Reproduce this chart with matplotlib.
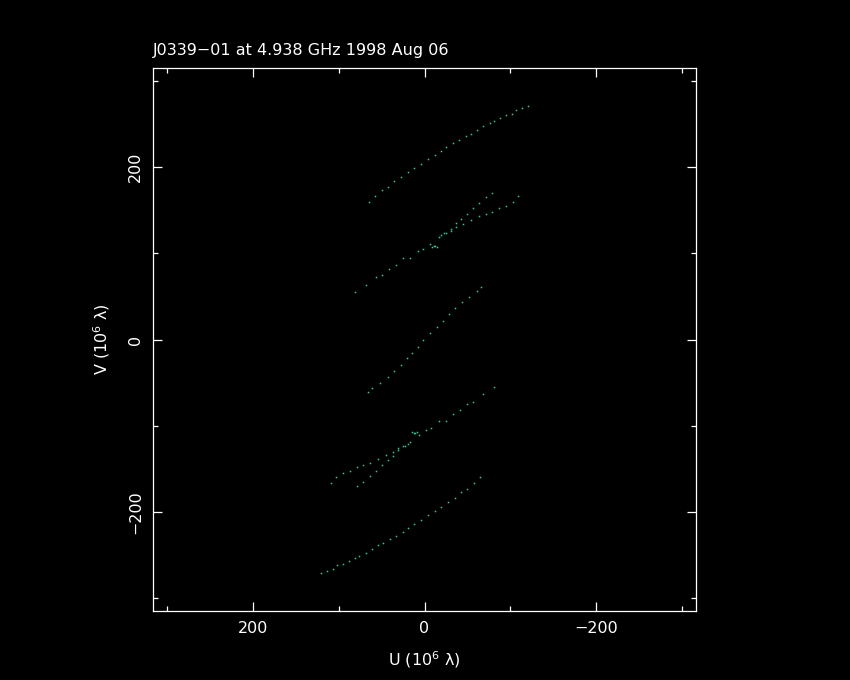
import numpy as np
import matplotlib
matplotlib.use("Agg")
import matplotlib.pyplot as plt
from matplotlib.ticker import MultipleLocator

# Datos: pistas uv (U, V en 10^6 lambda)
# Pista superior larga
u_pista1 = [65, 58, 49, 42, 35, 27, 19, 12, 4, -4, -12, -19, -25, -33, -40, -48,
            -54, -61, -68, -76, -81, -88, -95, -102, -107, -114, -120]
v_pista1 = [160, 166, 173, 177, 184, 189, 194, 199, 204, 209, 214, 219, 223, 228, 231, 236,
            239, 243, 248, 251, 253, 257, 260, 262, 266, 269, 271]

# Segunda pista (larga)
u_pista2 = [81, 68, 56, 49, 41, 33, 25, 17, 8, 2, -6, -17, -23, -31, -37, -45,
            -54, -64, -72, -78, -87, -95, -103, -109]
v_pista2 = [55, 63, 72, 75, 82, 86, 94, 95, 103, 105, 111, 119, 123, 126, 130, 134,
            139, 143, 146, 148, 153, 155, 160, 167]

# Rama corta y empinada que sale del punto brillante
u_pista2b = [-9, -11, -12, -14, -19, -25, -31, -37, -43, -49, -56, -63, -72, -79]
v_pista2b = [107, 108, 109, 107, 121, 124, 128, 135, 140, 146, 152, 158, 165, 170]

# Pista central (pasa por el origen)
u_pista3 = [66, 61, 52, 43, 35, 27, 20, 14, 7, 2, -6, -14, -21, -29, -35, -44,
            -52, -61, -66]
v_pista3 = [-61, -56, -50, -44, -37, -30, -22, -16, -9, 0, 7, 15, 22, 30, 36, 43,
            49, 56, 61]

titulo = "J0339\u221201 at 4.938 GHz 1998 Aug 06"
color_puntos = "#38c88e"

fig = plt.figure(figsize=(8.5, 6.8), dpi=100, facecolor="black")
ax = fig.add_axes([153 / 850, 69 / 680, 543 / 850, 543 / 680], facecolor="black")

# Las pistas superiores y sus conjugadas (-u, -v)
for u, v in [(u_pista1, v_pista1), (u_pista2, v_pista2), (u_pista2b, v_pista2b)]:
    u = np.array(u)
    v = np.array(v)
    ax.plot(u, v, ls="none", marker="s", ms=1.1, mew=0, color=color_puntos)
    ax.plot(-u, -v, ls="none", marker="s", ms=1.1, mew=0, color=color_puntos)
ax.plot(u_pista3, v_pista3, ls="none", marker="s", ms=1.1, mew=0, color=color_puntos)

ax.set_xlim(316, -316)
ax.set_ylim(-315, 315)

for lado in ax.spines.values():
    lado.set_color("white")
    lado.set_linewidth(0.9)

ax.xaxis.set_major_locator(MultipleLocator(200))
ax.xaxis.set_minor_locator(MultipleLocator(100))
ax.yaxis.set_major_locator(MultipleLocator(200))
ax.yaxis.set_minor_locator(MultipleLocator(100))
ax.tick_params(which="both", direction="in", top=True, right=True, colors="white",
               width=0.9, labelsize=11.5)
ax.tick_params(which="major", length=6.5, pad=7)
ax.tick_params(which="minor", length=3.6)
ax.set_xticks([200, 0, -200])
ax.set_xticklabels(["200", "0", "\u2212200"])
ax.set_yticks([-200, 0, 200])
ax.set_yticklabels(["\u2212200", "0", "200"], rotation=90, va="center")

ax.set_xlabel("U (10$^6$ \u03bb)", color="white", fontsize=11.5, labelpad=10)
ax.set_ylabel("V (10$^6$ \u03bb)", color="white", fontsize=11.5, labelpad=12)
ax.set_title(titulo, color="white", fontsize=11.5, loc="left", pad=9)

fig.savefig("out.png", dpi=100, facecolor="black")
